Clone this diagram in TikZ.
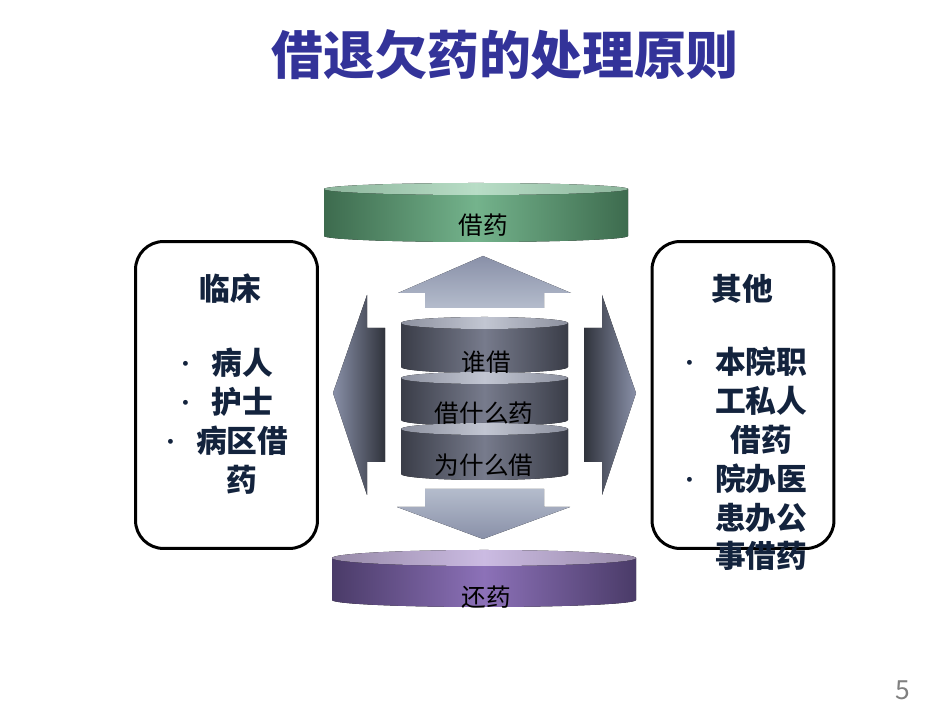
\documentclass[tikz,border=0pt]{standalone}
\usepackage{fontspec}
\newfontfamily\cjk{Noto Sans CJK SC}

\definecolor{titleblue}{HTML}{333399}
\definecolor{boxtext}{HTML}{13233D}
\definecolor{greendark}{HTML}{3D6B4E}
\definecolor{greenmid}{HTML}{74B38C}
\definecolor{greentopdark}{HTML}{8DB59C}
\definecolor{greentopmid}{HTML}{B8DDC6}
\definecolor{purpledark}{HTML}{4A3B68}
\definecolor{purplemid}{HTML}{8C71B8}
\definecolor{purpletopdark}{HTML}{978AA8}
\definecolor{purpletopmid}{HTML}{CBBBE2}
\definecolor{greydark}{HTML}{3A3D48}
\definecolor{greymid}{HTML}{777B8C}
\definecolor{greytopdark}{HTML}{8C909E}
\definecolor{greytopmid}{HTML}{C2C6D2}
\definecolor{arrowlight}{HTML}{B4BCCC}
\definecolor{arrowmid}{HTML}{8990A8}
\definecolor{arrowdark}{HTML}{30333C}

\newcommand{\dotmark}{\raisebox{0.07em}{\mdseries\fontsize{13}{13}\selectfont·}\hspace{0.45em}}

\tikzset{
  greenside/.style={left color=greendark, right color=greendark, middle color=greenmid},
  greentop/.style={left color=greentopdark, right color=greentopdark, middle color=greentopmid},
  purpleside/.style={left color=purpledark, right color=purpledark, middle color=purplemid},
  purpletop/.style={left color=purpletopdark, right color=purpletopdark, middle color=purpletopmid},
  greyside/.style={left color=greydark, right color=greydark, middle color=greymid},
  greytop/.style={left color=greytopdark, right color=greytopdark, middle color=greytopmid},
  infobox/.style={draw=black, line width=1.7pt, rounded corners=0.56cm,
    minimum width=3.64cm, minimum height=6.14cm},
  disklabel/.style={font=\cjk\fontsize{14}{16}\selectfont, text=black},
  boxhead/.style={font=\cjk\bfseries\fontsize{17.5}{22}\selectfont, text=boxtext},
  boxlist/.style={font=\cjk\bfseries\fontsize{17.5}{22.1}\selectfont, text=boxtext, align=center}
}

\begin{document}
\begin{tikzpicture}[x=0.02cm, y=0.02cm, every node/.style={inner sep=0pt}]
\useasboundingbox (0,0) rectangle (950,713);

% title
\node[font=\cjk\bfseries\fontsize{29.5}{32}\selectfont, text=titleblue] (title) at (505,658) {借退欠药的处理原则};

% top disk
\fill[greenside] (324,524) -- (324,477) arc[start angle=180, end angle=360, x radius=152, y radius=6] -- (628,524) -- cycle;
\fill[greentop] (476,524) ellipse[x radius=152, y radius=6];
\node[disklabel] (borrow) at (483,488) {借药};

% bottom disk
\fill[purpleside] (332,155) -- (332,113) arc[start angle=180, end angle=360, x radius=152, y radius=7] -- (636,155) -- cycle;
\fill[purpletop] (484,155) ellipse[x radius=152, y radius=8];
\node[disklabel] (giveback) at (486,116) {还药};

% arrows
\fill[top color=arrowmid, bottom color=arrowlight] (483,457) -- (571,420) -- (544,420) -- (544,405) -- (425,405) -- (425,420) -- (398,420) -- cycle;
\fill[top color=arrowlight, bottom color=arrowmid] (483,174) -- (570,206) -- (544,206) -- (544,224) -- (425,224) -- (425,206) -- (397,206) -- cycle;
\fill[left color=arrowmid, right color=arrowdark] (333,320) -- (367,418) -- (367,385) -- (385,385) -- (385,251) -- (367,251) -- (367,218) -- cycle;
\fill[left color=arrowdark, right color=arrowmid] (636,320) -- (602,418) -- (602,385) -- (584,385) -- (584,251) -- (602,251) -- (602,218) -- cycle;

% stack in the middle
\foreach \ytop/\ybot in {390/346, 335/293, 284/239} {
  \fill[greyside] (401,\ytop) -- (401,\ybot) arc[start angle=180, end angle=360, x radius=83.5, y radius=6] -- (568,\ytop) -- cycle;
  \fill[greytop] (484.5,\ytop) ellipse[x radius=83.5, y radius=6];
}
\node[disklabel] (who) at (486,351) {谁借};
\node[disklabel] (what) at (484,300) {借什么药};
\node[disklabel] (why) at (484,248) {为什么借};

% side boxes
\node[infobox] (clinic) at (226.5,318) {};
\node[boxhead] (clinichead) at (230,424) {临床};
\node[boxlist] (cliniclist) at (224,292) {\dotmark 病人\\\dotmark 护士\\\dotmark 病区借\\\phantom{\dotmark}药};

\node[infobox] (other) at (743,318) {};
\node[boxhead] (otherhead) at (742,424) {其他};
\node[boxlist] (otherlist) at (743,254) {\dotmark 本院职\\\phantom{\dotmark}工私人\\\phantom{\dotmark}借药\\\dotmark 院办医\\\phantom{\dotmark}患办公\\\phantom{\dotmark}事借药};

% page number
\node[font=\cjk\fontsize{15}{17}\selectfont, text=black!50] (page) at (903,23) {5};
\end{tikzpicture}
\end{document}
